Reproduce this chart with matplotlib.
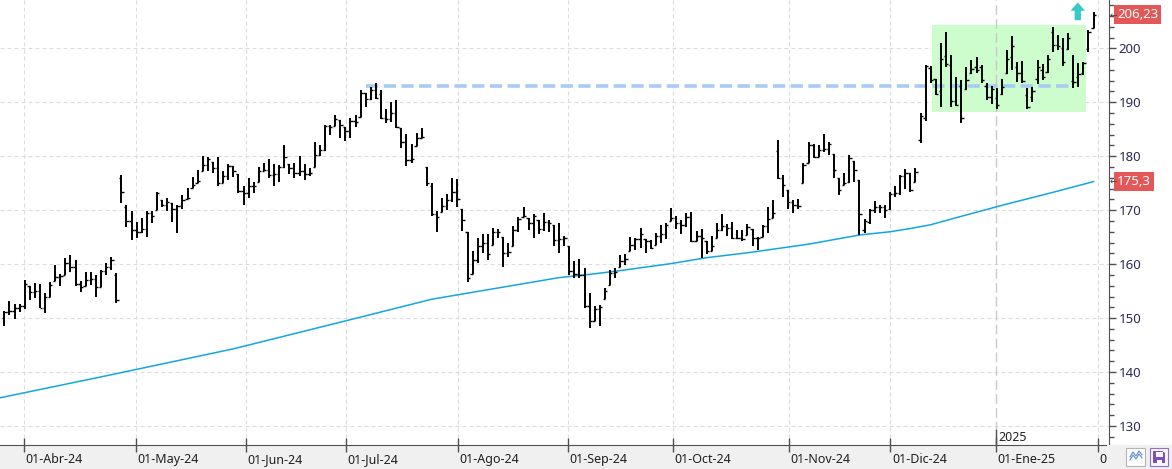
#!/usr/bin/env python3
# -*- coding: utf-8 -*-
import matplotlib
matplotlib.use('Agg')
import matplotlib.pyplot as plt
import matplotlib.transforms as mtransforms
from matplotlib.patches import Rectangle, Polygon
from matplotlib.ticker import MultipleLocator

plt.rcParams['font.family'] = ['Noto Sans', 'DejaVu Sans']

# daily OHLC, one value per trading session (index 0 = first bar on the left)
highs = [151.4, 153.2, 152.6, 152.6, 157.0, 156.0, 156.5, 156.3, 154.6, 156.6,
         159.9, 158.1, 161.1, 161.7, 160.8, 156.8, 158.6, 158.6, 158.0, 159.0,
         160.3, 161.3, 158.3, 176.5, 170.9, 169.8, 167.9, 168.5, 169.8, 169.8,
         173.4, 171.9, 172.3, 171.3, 170.9, 172.8, 174.1, 176.2, 177.5, 180.1,
         179.8, 179.0, 179.8, 177.2, 178.5, 178.1, 176.7, 174.4, 175.9, 175.2,
         178.0, 178.7, 179.4, 178.5, 178.3, 182.0, 178.5, 178.7, 180.1, 178.5,
         177.8, 182.7, 182.1, 185.8, 185.8, 187.7, 186.7, 185.5, 187.0, 187.7,
         192.3, 191.7, 192.8, 193.5, 192.3, 188.7, 190.1, 190.4, 185.2, 184.1,
         182.3, 184.3, 185.3, 178.0, 175.1, 169.9, 172.2, 173.0, 175.9, 175.8,
         170.2, 165.9, 162.5, 164.8, 165.6, 165.6, 166.7, 166.5, 165.1, 164.0,
         167.0, 168.8, 170.5, 168.5, 169.3, 168.1, 169.4, 168.2, 167.3, 167.7,
         165.2, 163.3, 160.6, 161.0, 159.3, 154.7, 152.2, 152.5, 155.6, 159.0,
         159.2, 161.7, 161.8, 165.1, 164.9, 166.7, 164.6, 164.4, 165.8, 167.2,
         167.7, 170.4, 169.0, 168.1, 169.5, 169.6, 166.1, 166.5, 164.3, 165.2,
         167.7, 169.2, 167.5, 167.9, 166.4, 166.4, 167.4, 166.6, 165.1, 167.3,
         170.6, 171.9, 183.0, 176.5, 173.8, 171.9, 172.0, 178.8, 182.7, 182.2,
         182.0, 184.1, 182.7, 180.5, 175.9, 176.9, 180.2, 179.1, 175.6, 168.3,
         170.3, 171.7, 170.9, 170.9, 173.4, 174.4, 176.5, 177.7, 176.8, 177.8,
         188.0, 196.9, 196.7, 194.4, 200.9, 203.1, 198.8, 194.6, 194.1, 196.6,
         197.8, 198.3, 196.9, 193.5, 193.0, 192.6, 194.4, 199.7, 202.3, 197.5,
         197.7, 192.6, 192.9, 197.8, 197.1, 198.8, 204.0, 202.5, 202.0, 202.8,
         198.8, 197.3, 197.5, 203.4, 206.8]

lows = [148.6, 150.6, 149.9, 151.2, 151.7, 153.4, 153.7, 151.8, 151.0, 154.0,
        156.8, 156.0, 158.0, 158.6, 156.0, 154.9, 156.0, 156.2, 153.9, 155.8,
        158.0, 158.9, 152.8, 171.3, 166.9, 164.5, 164.8, 165.7, 165.0, 167.7,
        170.0, 170.6, 169.9, 167.9, 165.7, 170.3, 172.0, 174.1, 175.0, 177.2,
        177.2, 176.9, 174.4, 175.1, 175.6, 176.2, 173.1, 170.9, 172.3, 173.1,
        175.3, 177.2, 175.9, 174.4, 175.3, 177.8, 176.7, 175.9, 176.4, 175.6,
        176.4, 178.0, 180.1, 181.0, 184.0, 185.6, 183.3, 182.8, 183.3, 185.4,
        187.3, 189.2, 190.4, 190.6, 186.9, 186.1, 186.4, 185.2, 181.6, 178.1,
        178.8, 181.8, 183.3, 174.4, 169.0, 165.9, 169.6, 170.1, 171.6, 170.5,
        166.2, 156.7, 158.1, 160.2, 162.0, 160.8, 163.6, 164.9, 159.4, 161.4,
        163.3, 166.0, 168.8, 166.4, 164.9, 165.6, 166.2, 166.0, 163.3, 162.1,
        163.3, 157.9, 157.5, 157.5, 151.9, 148.2, 149.4, 148.6, 153.6, 156.2,
        157.5, 159.5, 159.8, 162.4, 162.7, 163.0, 162.1, 162.8, 163.6, 164.0,
        164.7, 168.0, 166.5, 165.5, 166.9, 164.1, 164.3, 161.2, 161.8, 162.4,
        164.9, 166.1, 165.2, 164.6, 164.6, 164.3, 165.4, 163.3, 162.6, 165.1,
        165.8, 168.6, 175.7, 172.5, 170.3, 169.4, 170.3, 175.1, 178.8, 179.6,
        179.9, 180.8, 180.2, 176.0, 172.8, 174.6, 175.1, 175.2, 165.4, 165.7,
        167.5, 169.4, 169.5, 168.6, 170.1, 172.5, 172.8, 174.0, 173.4, 175.2,
        182.5, 186.6, 193.5, 191.4, 189.2, 196.6, 189.2, 189.3, 186.2, 192.3,
        195.2, 195.5, 193.6, 190.4, 189.7, 188.7, 191.4, 195.2, 196.0, 193.8,
        193.5, 188.7, 190.1, 193.4, 194.1, 195.4, 199.4, 199.7, 196.7, 199.7,
        192.6, 192.8, 195.1, 199.4, 203.7]

opens = [150.0, 151.2, 151.4, 151.8, 152.2, 156.0, 154.9, 155.1, 151.8, 154.0,
         156.8, 157.6, 158.0, 160.2, 159.4, 156.3, 156.0, 157.1, 157.2, 155.8,
         158.8, 159.5, 158.0, 176.0, 170.5, 168.0, 166.3, 166.0, 166.6, 169.5,
         170.0, 171.9, 170.9, 171.3, 170.3, 170.8, 172.0, 174.1, 175.0, 177.2,
         178.4, 179.0, 177.9, 175.1, 176.4, 178.1, 176.7, 173.5, 173.1, 174.4,
         175.3, 177.2, 177.5, 176.5, 176.7, 178.0, 178.5, 177.8, 176.9, 177.2,
         176.7, 178.0, 180.2, 181.2, 185.6, 185.6, 186.7, 185.5, 184.6, 186.6,
         187.3, 191.7, 190.6, 192.3, 191.5, 187.0, 186.9, 188.1, 185.2, 182.7,
         179.3, 181.8, 183.3, 178.0, 174.4, 169.2, 169.6, 170.8, 171.9, 173.3,
         170.2, 165.9, 158.1, 160.8, 163.3, 163.9, 163.6, 165.9, 165.1, 162.0,
         163.4, 166.4, 168.8, 168.5, 167.6, 168.1, 166.5, 167.9, 167.3, 164.5,
         164.6, 163.3, 158.7, 158.1, 157.9, 152.2, 149.4, 151.6, 153.6, 156.2,
         158.4, 159.5, 160.6, 162.4, 163.5, 164.7, 164.6, 164.3, 163.6, 165.2,
         165.5, 168.0, 168.6, 167.7, 167.3, 168.8, 164.3, 165.2, 164.3, 162.4,
         164.9, 166.4, 167.0, 166.7, 164.9, 164.9, 165.4, 166.6, 164.8, 165.1,
         167.0, 168.6, 181.0, 176.0, 173.8, 171.5, 170.9, 175.1, 178.8, 182.0,
         179.9, 181.2, 181.4, 180.5, 175.9, 174.6, 175.3, 179.1, 175.6, 166.3,
         167.8, 170.0, 170.5, 170.6, 170.3, 173.0, 173.2, 176.3, 176.8, 175.2,
         183.0, 187.0, 196.3, 194.3, 192.0, 198.6, 196.9, 190.2, 193.0, 192.5,
         195.5, 196.6, 196.5, 193.0, 191.0, 190.7, 191.6, 195.5, 198.3, 196.5,
         195.4, 191.4, 190.9, 194.4, 196.0, 195.6, 203.0, 200.6, 200.0, 199.8,
         194.0, 194.6, 195.5, 199.8, 203.7]

closes = [151.2, 151.4, 151.8, 152.2, 156.3, 154.9, 155.1, 151.8, 154.0, 156.2,
          157.6, 157.8, 160.2, 159.4, 156.3, 155.8, 157.1, 157.2, 155.8, 158.8,
          159.5, 160.8, 153.3, 173.4, 168.0, 166.3, 166.0, 166.6, 169.5, 168.9,
          173.1, 170.9, 171.6, 170.3, 170.8, 171.9, 172.2, 174.7, 175.4, 178.4,
          179.4, 177.9, 175.0, 176.4, 178.1, 177.3, 173.5, 173.1, 174.4, 174.4,
          177.2, 177.5, 176.5, 176.7, 178.0, 179.8, 177.8, 176.9, 177.2, 176.7,
          176.9, 180.2, 181.2, 185.6, 185.4, 186.9, 185.8, 184.6, 186.6, 186.4,
          191.8, 190.6, 192.3, 190.7, 187.0, 186.9, 188.1, 185.5, 182.7, 179.3,
          179.4, 183.3, 183.6, 175.0, 169.2, 168.8, 170.8, 171.9, 173.3, 172.0,
          168.2, 157.4, 160.8, 163.3, 163.9, 161.9, 165.9, 166.0, 162.0, 162.3,
          166.4, 168.4, 169.0, 167.6, 169.0, 166.5, 167.9, 167.6, 164.5, 164.6,
          164.9, 158.7, 158.1, 157.9, 152.2, 149.4, 151.6, 152.1, 155.0, 158.4,
          158.5, 160.6, 160.9, 163.5, 164.7, 165.5, 164.3, 163.0, 165.2, 165.5,
          167.3, 168.6, 167.7, 167.3, 168.8, 164.3, 165.2, 164.9, 162.4, 163.3,
          166.4, 167.0, 166.7, 164.9, 164.9, 164.6, 166.9, 164.8, 164.8, 167.0,
          168.3, 169.4, 176.0, 174.6, 171.5, 170.9, 170.7, 178.3, 182.0, 179.9,
          181.2, 181.4, 182.3, 177.4, 173.8, 175.1, 179.6, 177.4, 169.3, 168.0,
          170.0, 170.5, 170.6, 170.0, 173.0, 173.2, 176.3, 176.8, 173.7, 177.1,
          187.5, 196.7, 194.1, 191.5, 198.1, 197.0, 190.2, 189.5, 187.0, 194.1,
          196.1, 196.0, 194.1, 191.0, 192.4, 189.5, 192.9, 198.0, 200.4, 195.4,
          194.0, 189.2, 192.0, 196.5, 194.6, 198.0, 200.6, 200.4, 197.5, 202.0,
          193.8, 195.2, 197.3, 203.0, 206.2]

# moving average, read at a few bar positions
ma_idx = [-1, 20, 45, 65, 84, 109, 115, 121, 131, 138, 146, 158, 168, 174, 178, 182, 187, 196, 206, 214]
ma_val = [135.2, 139.3, 144.3, 149.0, 153.5, 157.5, 158.1, 158.8, 160.1, 161.2,
          162.1, 163.7, 165.4, 166.0, 166.6, 167.3, 168.6, 170.9, 173.3, 175.3]

# month starts (bar position of the tick) and their labels
month_pos = [3.92, 25.9, 47.4, 67.1, 89.2, 110.8, 131.3, 154.2, 174.1, 194.9, 214.8]
month_lbl = ['01-Abr-24', '01-May-24', '01-Jun-24', '01-Jul-24', '01-Ago-24', '01-Sep-24',
             '01-Oct-24', '01-Nov-24', '01-Dic-24', '01-Ene-25', '01-Feb-25']
year_pos = 194.9
year_lbl = '2025'

# resistance level and consolidation box
level_val = 193.1
level_from, level_to = 71.1, 209.4
box_x0, box_x1 = 182.3, 212.5
box_lo, box_hi = 188.2, 204.3

# buy signal arrow
sig_x = 210.9
sig_lo, sig_hi = 205.2, 208.5

last_price = 206.23
last_ma = 175.3
y_ticks = [130, 140, 150, 160, 170, 180, 190, 200]

W, H = 1172, 469
AX_R, AX_B = 1109, 24


def draw():
    fig = plt.figure(figsize=(W / 100, H / 100), dpi=100)
    fig.patch.set_facecolor('#f0f0f0')
    fig.add_artist(Rectangle((AX_R / W, AX_B / H), (W - AX_R) / W, (H - AX_B) / H,
                             transform=fig.transFigure, fc='white', ec='none', zorder=0))
    ax = fig.add_axes([0, AX_B / H, AX_R / W, (H - AX_B) / H])
    ax.set_facecolor('white')
    ax.set_xlim(-0.85, 217.03)
    ax.set_ylim(126.48, 208.95)

    for s in ['top', 'left']:
        ax.spines[s].set_visible(False)
    ax.spines['right'].set_color('#505050')
    ax.spines['bottom'].set_color('#505050')

    # grid
    grid_ls = (0, (3.6, 2.7))
    for y in y_ticks:
        ax.axhline(y, color='#dcdcdc', lw=0.8, ls=grid_ls, zorder=0)
    for x in month_pos:
        if x == year_pos:
            continue
        ax.axvline(x, color='#dcdcdc', lw=0.8, ls=grid_ls, zorder=0)

    ax.add_patch(Rectangle((box_x0, box_lo), box_x1 - box_x0, box_hi - box_lo,
                           fc='#cdfccd', ec='none', zorder=1))
    ax.axvline(year_pos, color='#cacaca', lw=1.0, ls=(0, (7, 3)), zorder=1.5)

    ax.hlines(level_val, level_from, level_to, colors='#a9cbf2', lw=2.6,
              linestyles=(0, (3.4, 1.5)), zorder=2)

    ax.plot(ma_idx, ma_val, color='#13a6e2', lw=1.1, zorder=2.5)

    xs = list(range(len(highs)))
    ax.vlines(xs, lows, highs, colors='black', lw=1.4, zorder=3)
    ax.hlines(opens, [x - 0.45 for x in xs], xs, colors='black', lw=1.0, zorder=3)
    ax.hlines(closes, xs, [x + 0.45 for x in xs], colors='black', lw=1.0, zorder=3)

    # y axis on the right
    ax.yaxis.tick_right()
    ax.set_yticks(y_ticks)
    ax.yaxis.set_minor_locator(MultipleLocator(2))
    ax.tick_params(axis='y', which='major', length=5, width=1, color='#505050',
                   labelsize=9.5, labelcolor='#2a2a55', pad=2)
    ax.tick_params(axis='y', which='minor', length=3.5, width=1, color='#505050')

    # x axis dates
    ax.set_xticks(month_pos)
    ax.set_xticklabels(month_lbl)
    ax.tick_params(axis='x', direction='inout', length=10, width=1, color='#505050',
                   labelsize=9, labelcolor='#202020', pad=1)
    off = mtransforms.ScaledTranslation(1.5 / 100, 0, fig.dpi_scale_trans)
    for lbl in ax.get_xticklabels():
        lbl.set_ha('left')
        lbl.set_transform(lbl.get_transform() + off)

    bx = mtransforms.blended_transform_factory(ax.transData, ax.transAxes)
    ax.plot([year_pos, year_pos], [0, 15 / (H - AX_B)], color='#505050', lw=1,
            transform=bx, zorder=4)
    ax.text(year_pos + 0.35, 1 / (H - AX_B), year_lbl, transform=bx, ha='left', va='bottom',
            fontsize=9, color='#202020')

    # price tags
    by = mtransforms.blended_transform_factory(ax.transAxes, ax.transData)
    for val, txt in [(last_price, '206,23'), (last_ma, '175,3')]:
        ax.text(1 + 8 / AX_R, val, txt, transform=by, ha='left', va='center', fontsize=9.5,
                color='white', clip_on=False, zorder=6,
                bbox=dict(boxstyle='square,pad=0.22', fc='#e35757', ec='none'))
        ax.text(1 + 1 / AX_R, val, '←', transform=by, ha='left', va='center', fontsize=6.5,
                color='#404040', clip_on=False, zorder=6)

    ax.annotate('', xy=(sig_x, sig_hi), xytext=(sig_x, sig_lo),
                arrowprops=dict(arrowstyle='simple,head_width=1.05,head_length=0.6,tail_width=0.45',
                                fc='#35c9c9', ec='none', mutation_scale=10, shrinkA=0, shrinkB=0),
                zorder=5)

    # bottom right corner with the two buttons
    fig.add_artist(Rectangle((1107 / W, 0), (W - 1107) / W, AX_B / H, transform=fig.transFigure,
                             fc='#f0f0f0', ec='none', zorder=5))
    fig.add_artist(Rectangle((1126 / W, 3 / H), 19 / W, 18 / H, transform=fig.transFigure,
                             fc='white', ec='#b4b4b4', lw=0.8, zorder=6))
    zx = [1130, 1133, 1136, 1139, 1142]
    for dy in [0, 3]:
        zy = [9 + dy, 14 + dy, 10 + dy, 15 + dy, 11 + dy]
        fig.add_artist(plt.Line2D([v / W for v in zx], [v / H for v in zy], transform=fig.transFigure,
                                  color='#5a8fd0', lw=0.8, zorder=7))
    fig.add_artist(Rectangle((1150 / W, 3 / H), 18 / W, 18 / H, transform=fig.transFigure,
                             fc='#f7f7f7', ec='#9070c8', lw=0.8, zorder=6))
    fig.add_artist(Polygon([(1153 / W, 6 / H), (1165 / W, 6 / H), (1165 / W, 16 / H),
                            (1162 / W, 18 / H), (1153 / W, 18 / H)], closed=True,
                           transform=fig.transFigure, fc='#7a4fc0', ec='none', zorder=7))
    fig.add_artist(Rectangle((1155.5 / W, 12.5 / H), 7 / W, 4.5 / H, transform=fig.transFigure,
                             fc='white', ec='none', zorder=8))
    fig.add_artist(Rectangle((1156.5 / W, 6 / H), 5 / W, 3.5 / H, transform=fig.transFigure,
                             fc='white', ec='none', zorder=8))

    fig.savefig('out.png', dpi=100, facecolor=fig.get_facecolor())


if __name__ == '__main__':
    draw()
